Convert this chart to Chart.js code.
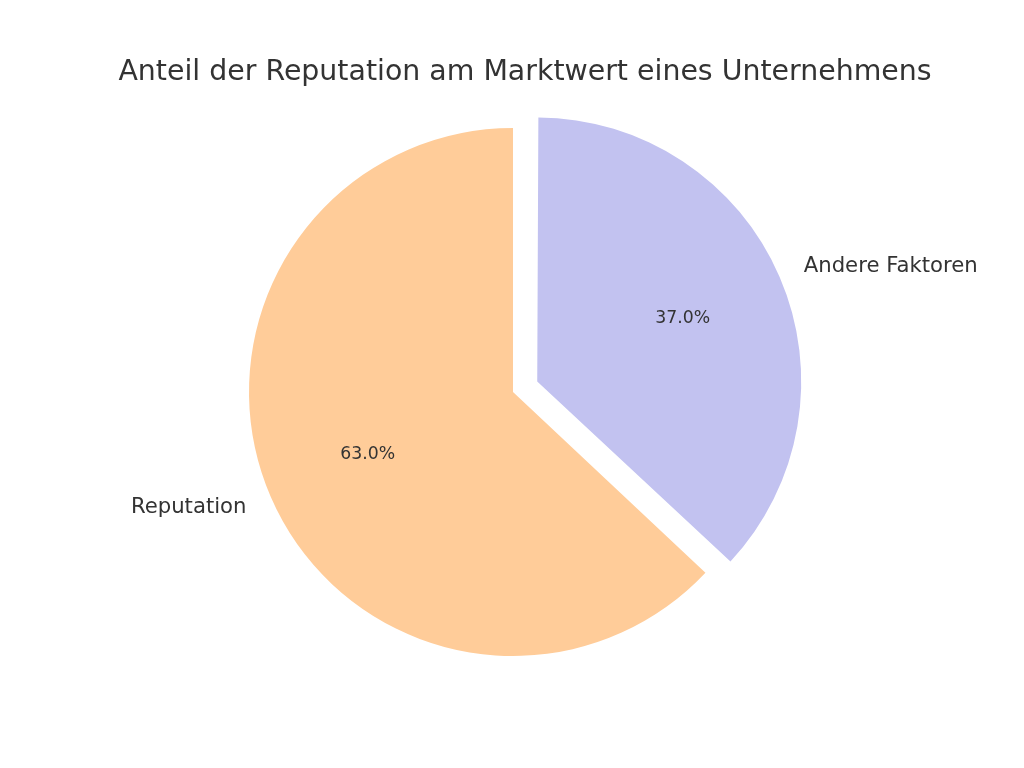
<!DOCTYPE html>
<html><head><meta charset="utf-8">
<script src="https://cdn.jsdelivr.net/npm/chart.js@4"></script>
<style>html,body{margin:0;padding:0;background:#fff}#wrap{width:1024px;height:768px}</style>
</head><body><div id="wrap"><canvas id="c" width="1024" height="768"></canvas></div>
<script>
const chartTitle = "Anteil der Reputation am Marktwert eines Unternehmens";
const categories = ["Reputation", "Andere Faktoren"];
const shares = [63, 37];
const sliceColors = ["#ffcc99", "#c2c2f0"];
const explode = [0, 0.1];

const R = 264;
const FONT = "'DejaVu Sans', sans-serif";
const TEXT = "#333333";
const total = shares.reduce((a, b) => a + b, 0);

const fixRadius = {
  id: 'fixRadius',
  beforeDatasetsDraw(chart) {
    chart.getDatasetMeta(0).data.forEach(arc => {
      const off = (arc.options.offset || 0) / 4;
      const fix = 1 - Math.sin(Math.min(Math.PI, arc.circumference || 0));
      arc.outerRadius = R - off * fix;
    });
  }
};

const labelsPlugin = {
  id: 'pieLabels',
  afterDatasetsDraw(chart) {
    const ctx = chart.ctx;
    ctx.save();
    ctx.fillStyle = TEXT;
    ctx.textBaseline = 'middle';
    chart.getDatasetMeta(0).data.forEach((arc, i) => {
      const half = (arc.startAngle + arc.endAngle) / 2;
      const c = Math.cos(half), s = Math.sin(half);
      const off = explode[i] * R;
      const cx = arc.x + c * off, cy = arc.y + s * off;
      ctx.font = "21.2px " + FONT;
      ctx.textAlign = c >= 0 ? 'left' : 'right';
      ctx.fillText(categories[i], cx + c * 1.1 * R, cy + s * 1.1 * R);
      ctx.font = "17.3px " + FONT;
      ctx.textAlign = 'center';
      const pct = (shares[i] / total * 100).toFixed(1) + '%';
      ctx.fillText(pct, cx + c * 0.6 * R, cy + s * 0.6 * R);
    });
    ctx.font = "28.4px " + FONT;
    ctx.textAlign = 'center';
    ctx.fillText(chartTitle, 525, 73);
    ctx.restore();
  }
};

new Chart(document.getElementById('c'), {
  type: 'pie',
  data: {
    labels: categories,
    datasets: [{
      data: shares,
      backgroundColor: sliceColors,
      borderWidth: 0,
      offset: explode.map(e => e * R * 4)
    }]
  },
  options: {
    responsive: false,
    animation: false,
    devicePixelRatio: 1,
    events: [],
    rotation: -360 * shares[0] / total,
    radius: R,
    layout: { padding: { top: 120, bottom: 104, left: 241, right: 239 } },
    plugins: { legend: { display: false }, tooltip: { enabled: false }, title: { display: false } }
  },
  plugins: [fixRadius, labelsPlugin]
});
</script></body></html>
